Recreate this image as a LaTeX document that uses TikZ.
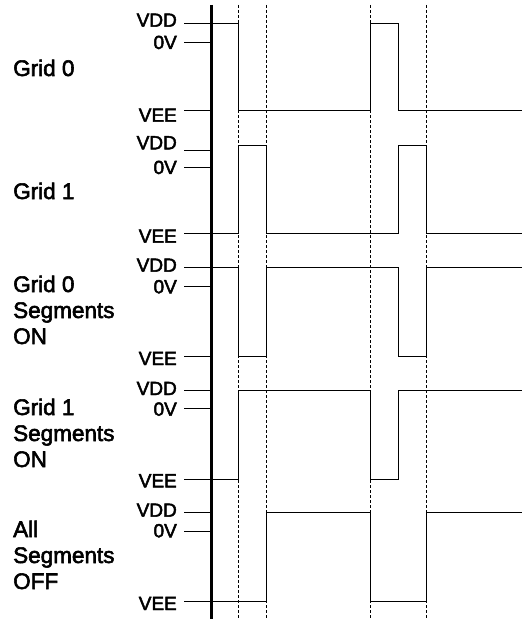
\documentclass[tikz,border=0pt]{standalone}
\usepackage{fontspec}
\setmainfont{Liberation Sans}
\newfontfamily\lblfont{Liberation Sans}[FakeBold=2.5]
\begin{document}
\begin{tikzpicture}[x=1bp,y=-1bp,
  lvl/.style={font=\lblfont\fontsize{19bp}{21bp}\selectfont, anchor=base east, inner sep=0pt},
  grp/.style={font=\lblfont\fontsize{22.5bp}{26bp}\selectfont, anchor=base west, inner sep=0pt},
  ticksty/.style={line width=1.8bp},
  axissty/.style={line width=3bp},
  sig/.style={line width=1.6bp, line join=miter},
  guide/.style={line width=1.2bp, dash pattern=on 3bp off 2bp}]
\useasboundingbox (0,0) rectangle (522,619);
\def\xA{238.5}\def\xB{266.5}\def\xC{370.5}\def\xD{398.5}\def\xE{426.5}
% guides
\foreach \gx/\gn in {\xA/ga,\xB/gb,\xC/gc,\xE/ge}{
  \coordinate (\gn top) at (\gx,5);
  \coordinate (\gn bot) at (\gx,619);
  \draw[guide] (\gn top) -- (\gn bot);
}
% axis
\coordinate (axtop) at (211.5,5);
\coordinate (axbot) at (211.5,619);
\draw[axissty] (axtop) -- (axbot);
% group labels
\node[grp] (g1a) at (13,76) {Grid 0};
\node[grp] (g2a) at (13,199) {Grid 1};
\node[grp] (g3a) at (13,292) {Grid 0};
\node[grp] (g3b) at (13,318) {Segments};
\node[grp] (g3c) at (13,344) {ON};
\node[grp] (g4a) at (13,415) {Grid 1};
\node[grp] (g4b) at (13,441) {Segments};
\node[grp] (g4c) at (13,467) {ON};
\node[grp] (g5a) at (13,537) {All};
\node[grp] (g5b) at (13,563) {Segments};
\node[grp] (g5c) at (13,589) {OFF};
% level labels and ticks
\foreach \i/\hd/\hz/\he/\td/\tz/\te in {
  1/26.7/49/121.7/23.5/42.5/110.5,
  2/149.3/174/242.7/150.5/167.5/233.5,
  3/271.7/293.3/365/267.5/286.5/356.5,
  4/395/415.7/487.3/390.5/408.5/479.5,
  5/516.7/537.3/610/512.5/531.5/601.5}{
  \node[lvl] (vdd\i) at (177,\hd) {VDD};
  \node[lvl] (zero\i) at (177,\hz) {0V};
  \node[lvl] (vee\i) at (177,\he) {VEE};
  \draw[ticksty] (184,\td) -- (211,\td);
  \draw[ticksty] (184,\tz) -- (211,\tz);
  \draw[ticksty] (184,\te) -- (211,\te);
}
% signals
\draw[sig] (211,23.5) -- (\xA,23.5) -- (\xA,110.5) -- (\xC,110.5) -- (\xC,23.5) -- (\xD,23.5) -- (\xD,110.5) -- (522,110.5);
\draw[sig] (211,233.5) -- (\xA,233.5) -- (\xA,145.5) -- (\xB,145.5) -- (\xB,233.5) -- (\xD,233.5) -- (\xD,145.5) -- (\xE,145.5) -- (\xE,233.5) -- (522,233.5);
\draw[sig] (211,267.5) -- (\xA,267.5) -- (\xA,356.5) -- (\xB,356.5) -- (\xB,267.5) -- (\xD,267.5) -- (\xD,356.5) -- (\xE,356.5) -- (\xE,267.5) -- (522,267.5);
\draw[sig] (211,479.5) -- (\xA,479.5) -- (\xA,390.5) -- (\xC,390.5) -- (\xC,479.5) -- (\xD,479.5) -- (\xD,390.5) -- (522,390.5);
\draw[sig] (211,601.5) -- (\xB,601.5) -- (\xB,512.5) -- (\xC,512.5) -- (\xC,601.5) -- (\xE,601.5) -- (\xE,512.5) -- (522,512.5);
\end{tikzpicture}
\end{document}
